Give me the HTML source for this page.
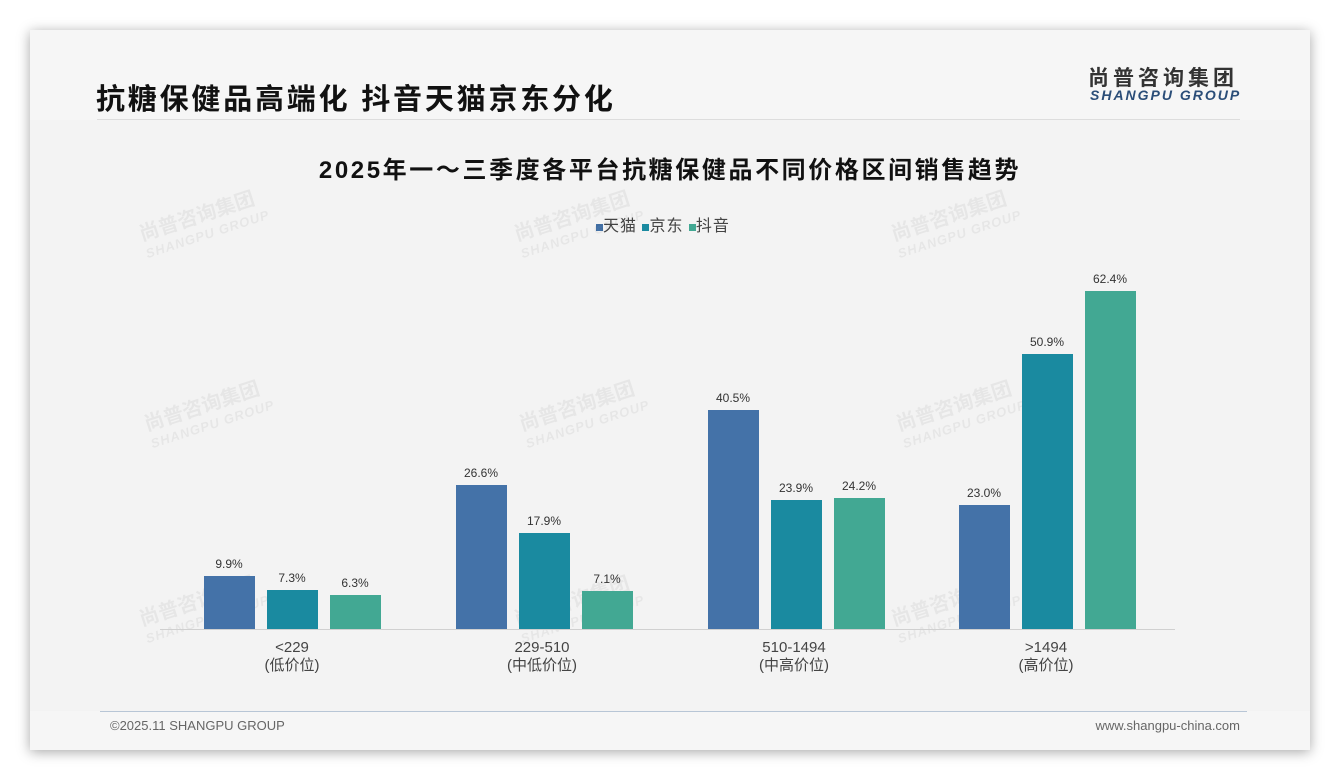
<!DOCTYPE html>
<html><head><meta charset="utf-8"><style>
body{margin:0;width:1340px;height:780px;background:#fff;font-family:"Liberation Sans","Noto Sans CJK SC",sans-serif;position:relative;overflow:hidden}
.card{position:absolute;left:30px;top:30px;width:1280px;height:720px;background:#f3f3f3;box-shadow:0 2px 12px rgba(0,0,0,.35)}
.hdr{position:absolute;left:0;top:0;width:1280px;height:90px;background:#f6f6f6}
.ftr{position:absolute;left:0;top:681px;width:1280px;height:39px;background:#f6f6f6}
.t{position:absolute;white-space:nowrap}
.bar{position:absolute;width:51px}
.v{position:absolute;width:60px;text-align:center;font-size:12px;color:#333}
.x{position:absolute;width:160px;text-align:center;font-size:15px;color:#444;line-height:18px}
.wm{position:absolute;color:rgba(0,0,0,.05);font-weight:bold;transform:rotate(-18deg);font-size:20px;line-height:20px}
.wm i{display:block;font-style:italic;font-size:13px;letter-spacing:1px}
</style></head><body>
<div class="card">
<div class="hdr"></div><div class="ftr"></div>
</div>
<div class="t" style="left:96px;top:76px;font-size:29px;font-weight:bold;color:#111;letter-spacing:2.8px">抗糖保健品高端化 抖音天猫京东分化</div>
<div class="t" style="left:1088px;top:62px;font-size:21px;font-weight:bold;color:#333;letter-spacing:4px">尚普咨询集团</div>
<div class="t" style="left:1090px;top:87px;font-size:14px;font-weight:bold;font-style:italic;color:#2a4d78;letter-spacing:2px">SHANGPU GROUP</div>
<div style="position:absolute;left:97px;top:119px;width:1143px;height:1px;background:#ddd"></div>
<div class="t" style="left:0;width:1340px;text-align:center;top:150px;font-size:24px;font-weight:bold;color:#111;letter-spacing:2.6px">2025年一～三季度各平台抗糖保健品不同价格区间销售趋势</div>
<div class="t" style="left:596px;top:212px;font-size:16px;color:#444;letter-spacing:1px"><span style="display:inline-block;width:7px;height:7px;background:#4472a8"></span>天猫 <span style="display:inline-block;width:7px;height:7px;background:#1a8aa0"></span>京东 <span style="display:inline-block;width:7px;height:7px;background:#42a893"></span>抖音</div>
<div class="wm" style="left:140px;top:205px">尚普咨询集团<i>SHANGPU GROUP</i></div>
<div class="wm" style="left:515px;top:205px">尚普咨询集团<i>SHANGPU GROUP</i></div>
<div class="wm" style="left:892px;top:205px">尚普咨询集团<i>SHANGPU GROUP</i></div>
<div class="wm" style="left:145px;top:395px">尚普咨询集团<i>SHANGPU GROUP</i></div>
<div class="wm" style="left:520px;top:395px">尚普咨询集团<i>SHANGPU GROUP</i></div>
<div class="wm" style="left:897px;top:395px">尚普咨询集团<i>SHANGPU GROUP</i></div>
<div class="wm" style="left:140px;top:590px">尚普咨询集团<i>SHANGPU GROUP</i></div>
<div class="wm" style="left:515px;top:590px">尚普咨询集团<i>SHANGPU GROUP</i></div>
<div class="wm" style="left:892px;top:590px">尚普咨询集团<i>SHANGPU GROUP</i></div>
<div style="position:absolute;left:160px;top:629px;width:1015px;height:1px;background:#d0d0d0"></div>
<div class="bar" style="left:204px;top:576px;height:53px;background:#4472a8"></div><div class="v" style="left:199px;top:557px">9.9%</div>
<div class="bar" style="left:267px;top:590px;height:39px;background:#1a8aa0"></div><div class="v" style="left:262px;top:571px">7.3%</div>
<div class="bar" style="left:330px;top:595px;height:34px;background:#42a893"></div><div class="v" style="left:325px;top:576px">6.3%</div>
<div class="bar" style="left:456px;top:485px;height:144px;background:#4472a8"></div><div class="v" style="left:451px;top:466px">26.6%</div>
<div class="bar" style="left:519px;top:533px;height:96px;background:#1a8aa0"></div><div class="v" style="left:514px;top:514px">17.9%</div>
<div class="bar" style="left:582px;top:591px;height:38px;background:#42a893"></div><div class="v" style="left:577px;top:572px">7.1%</div>
<div class="bar" style="left:708px;top:410px;height:219px;background:#4472a8"></div><div class="v" style="left:703px;top:391px">40.5%</div>
<div class="bar" style="left:771px;top:500px;height:129px;background:#1a8aa0"></div><div class="v" style="left:766px;top:481px">23.9%</div>
<div class="bar" style="left:834px;top:498px;height:131px;background:#42a893"></div><div class="v" style="left:829px;top:479px">24.2%</div>
<div class="bar" style="left:959px;top:505px;height:124px;background:#4472a8"></div><div class="v" style="left:954px;top:486px">23.0%</div>
<div class="bar" style="left:1022px;top:354px;height:275px;background:#1a8aa0"></div><div class="v" style="left:1017px;top:335px">50.9%</div>
<div class="bar" style="left:1085px;top:291px;height:338px;background:#42a893"></div><div class="v" style="left:1080px;top:272px">62.4%</div>
<div class="x" style="left:212px;top:639px">&lt;229<br>(低价位)</div>
<div class="x" style="left:462px;top:639px">229-510<br>(中低价位)</div>
<div class="x" style="left:714px;top:639px">510-1494<br>(中高价位)</div>
<div class="x" style="left:966px;top:639px">&gt;1494<br>(高价位)</div>
<div style="position:absolute;left:100px;top:711px;width:1147px;height:1px;background:#b8c6d6"></div>
<div class="t" style="left:110px;top:718px;font-size:13px;color:#666">©2025.11 SHANGPU GROUP</div>
<div class="t" style="right:100px;top:718px;font-size:13px;color:#666">www.shangpu-china.com</div>
</body></html>
